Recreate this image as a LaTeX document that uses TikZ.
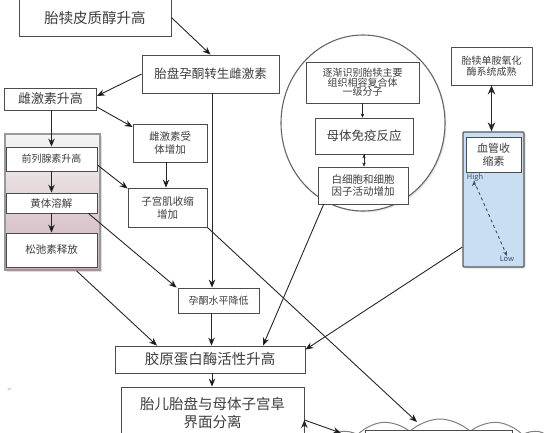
\documentclass[tikz,border=0pt]{standalone}
\usepackage{fontspec}
\setmainfont{Noto Sans CJK SC}
\newfontfamily\symfont{DejaVu Sans}
\usetikzlibrary{arrows.meta,shapes.geometric,shapes.symbols,shadows}
\definecolor{ink}{RGB}{62,62,62}
\definecolor{skyfill}{RGB}{201,222,242}
\definecolor{pinkgray}{RGB}{205,176,184}
\definecolor{hilo}{RGB}{60,78,110}
\tikzset{
    box/.style =    {rectangle,
                    fill=white,
                    draw=black!70,
                    text=ink,
                    line width=0.8pt,
                    inner sep=1pt,
                    align=center},
    panel/.style =  {rectangle,
                    draw=gray!80,
                    line width=1.6pt,
                    top color=gray!8,
                    middle color=gray!25,
                    bottom color=pinkgray,
                    drop shadow={opacity=0.25,shadow xshift=1.5pt,shadow yshift=-1.5pt}},
    ring/.style =   {ellipse,
                    fill=white,
                    draw=black!60,
                    line width=1.1pt,
                    inner sep=0pt,
                    drop shadow={opacity=0.2,shadow xshift=1.5pt,shadow yshift=-1.5pt}},
    tank/.style =   {rectangle,
                    fill=skyfill,
                    draw=black!65,
                    line width=1.3pt,
                    rounded corners=1pt,
                    drop shadow={opacity=0.25,shadow xshift=1.5pt,shadow yshift=-1.5pt}},
    puff/.style =   {cloud,
                    cloud puffs=12,
                    cloud puff arc=90,
                    aspect=5,
                    fill=white,
                    draw=black!50,
                    line width=1pt,
                    drop shadow={opacity=0.2,shadow xshift=1pt,shadow yshift=-1pt}},
    fsize/.style 2 args = {font=\fontsize{#1}{#2}\selectfont},
    link/.style =   {draw=black!85,
                    line width=0.9pt,
                    ->},
    >={Stealth[length=8pt,width=6.5pt]}}
\begin{document}
\begin{tikzpicture}[x=1pt,y=-1pt]
    \useasboundingbox (0,0) rectangle (544,432);
    \clip (0,0) rectangle (544,432);
    % left column
    \node[box, fsize={14.5}{17}, minimum width=152pt, minimum height=37pt] (cort) at (95,17.5) {胎犊皮质醇升高};
    \node[box, fsize={12.5}{15}, minimum width=137pt, minimum height=38pt] (conv) at (210.5,74) {胎盘孕酮转生雌激素};
    \node[box, fsize={13}{15}, minimum width=92pt, minimum height=22pt] (estr) at (50.5,99) {雌激素升高};
    \node[box, fsize={10.5}{13}, minimum width=74pt, minimum height=38pt] (recp) at (170,143) {雌激素受\\体增加};
    \node[box, fsize={10.5}{13}, minimum width=79pt, minimum height=39pt] (cont) at (167.5,207.5) {子宫肌收缩\\增加};
    \node[panel, minimum width=95pt, minimum height=136pt] (grp) at (52.5,202) {};
    \node[box, fsize={10}{12}, minimum width=91pt, minimum height=24pt] (pgf) at (51.5,159) {前列腺素升高};
    \node[box, fsize={10.5}{12}, minimum width=91pt, minimum height=20pt] (lut) at (51.5,203) {黄体溶解};
    \node[box, fsize={10.5}{12}, minimum width=91pt, minimum height=34pt] (rel) at (51.5,250) {松弛素释放};
    \node[box, fsize={10}{12}, minimum width=81pt, minimum height=25pt] (prog) at (218.5,300.5) {孕酮水平降低};
    \node[box, fsize={14.5}{17}, minimum width=190pt, minimum height=27pt] (coll) at (210,359.5) {胶原蛋白酶活性升高};
    \node[box, fsize={14.5}{18}, minimum width=183pt, minimum height=52pt] (sep) at (212.5,413) {胎儿胎盘与母体子宫阜\\界面分离};
    \node[text=gray!60, font=\symfont\fontsize{6}{6}\selectfont] (ret) at (10,390) {↵};
    % immune circle
    \node[ring, minimum width=164pt, minimum height=176pt] (imm) at (363,123) {};
    \node[box, fsize={10}{9.5}, minimum width=113pt, minimum height=41pt] (mhc) at (362.5,82.5) {逐渐识别胎犊主要\\组织相容复合体\\一级分子};
    \node[box, fsize={12.5}{15}, minimum width=98pt, minimum height=36pt] (immr) at (364,136) {母体免疫反应};
    \node[box, fsize={10.5}{12}, minimum width=90pt, minimum height=37pt] (cyto) at (363,185.5) {白细胞和细胞\\因子活动增加};
    % right column
    \node[box, fsize={10}{11}, minimum width=81pt, minimum height=38pt] (mao) at (491.5,66) {胎犊单胺氧化\\酶系统成熟};
    \node[tank, minimum width=61pt, minimum height=135pt] (vaso) at (493.5,199.5) {};
    \node[box, fsize={11}{13}, minimum width=55pt, minimum height=35pt] (vlbl) at (493.5,154.5) {血管收\\缩素};
    \node[text=hilo, fsize={7.5}{9}, inner sep=0pt] (hi) at (475,177) {High};
    \node[text=hilo, fsize={7.5}{9}, inner sep=0pt] (lo) at (507,259) {Low};
    % cloud
    \node[puff, minimum width=228pt, minimum height=50pt] (cloud) at (440,444) {};
    \node[box, minimum width=147pt, minimum height=30pt] (cbox) at (438.5,445) {};
    \coordinate (ctop) at (417,422);
    \coordinate (cleft) at (341,433);
    \path [link] (cort.east) edge [] (conv.north)
                 (conv.west) edge [] ([yshift=3pt]estr.east)
                 ([yshift=-8pt]estr.east) edge [] ([yshift=16pt]recp.west)
                 (pgf.north |- estr.south) edge [] (pgf.north)
                 (pgf.south) edge [] (lut.north)
                 (lut.south) edge [] (rel.north)
                 ([yshift=-6pt]pgf.east) edge [] ([yshift=-1pt]cont.north west)
                 ([xshift=-4pt]recp.south) edge [] ([xshift=-4pt]recp.south |- cont.north)
                 ([xshift=1.5pt]conv.south) edge [] ([xshift=1.5pt]conv.south |- prog.north)
                 ([xshift=-9pt]lut.south east) edge [] ([xshift=-1pt]prog.north west)
                 ([xshift=24pt]grp.south) edge [] ([xshift=-53pt]coll.north)
                 (cont.south east) edge [] (ctop)
                 ([xshift=6pt]cyto.south west) edge [] ([xshift=53pt]coll.north)
                 ([yshift=-47.5pt]vaso.west) edge [] ([yshift=-4pt]coll.north east)
                 ([xshift=-7pt]prog.south) edge [] ([xshift=-7pt]prog.south |- coll.north)
                 ([xshift=2pt]coll.south) edge [] ([xshift=2pt]coll.south |- sep.north)
                 ([yshift=-7pt]sep.east) edge [] (cleft);
    \path [link, line width=0.5pt, >={Stealth[length=4pt,width=3.5pt]}] (mhc.south) edge [] (mhc.south |- immr.north)
                 (immr.south) edge [] (immr.south |- cyto.north);
    \path [link, line width=1.8pt, >={Stealth[length=9pt,width=7.5pt]}] (mao.south) edge [] (mao.south |- vaso.north);
    \path [link, draw=hilo, line width=0.9pt, dashed, >={Stealth[length=5pt,width=4pt]}] ([xshift=-1pt]hi.south) edge [] (lo.north);
\end{tikzpicture}
\end{document}
